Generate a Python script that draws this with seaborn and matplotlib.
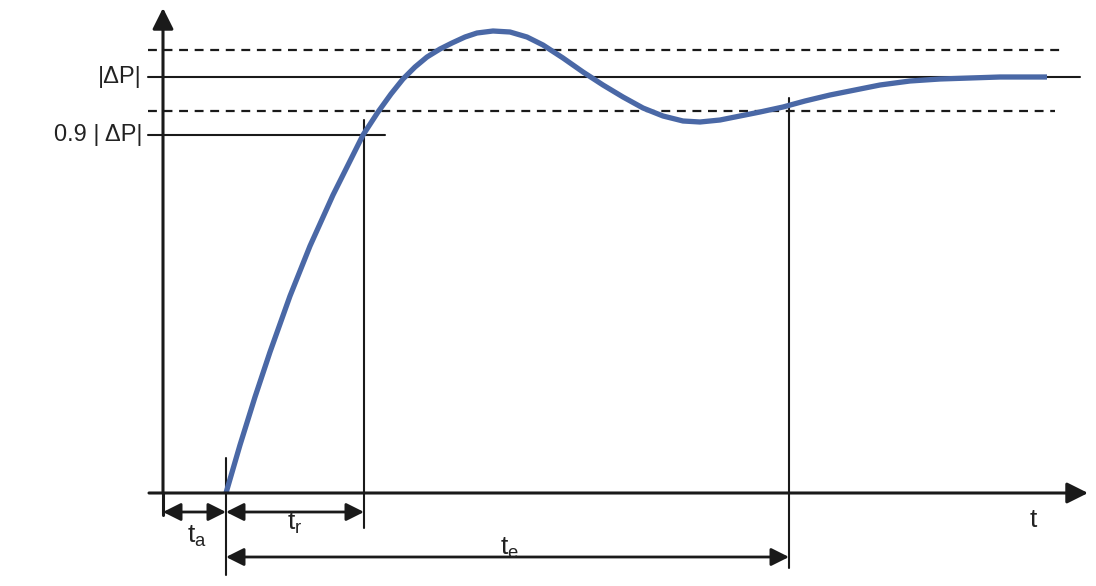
import numpy as np
import pandas as pd
import seaborn as sns
import matplotlib.pyplot as plt

# step response (t to the right, response upwards, in drawing units)
curve_t = [226, 240, 255, 270, 290, 310, 333, 348, 363, 378, 391, 403, 415, 427,
           440, 452, 465, 477, 493, 510, 527, 543, 563, 583, 603, 623, 643, 663,
           683, 700, 720, 740, 760, 783, 805, 830, 855, 880, 910, 940, 970, 1000,
           1047]
curve_y = [0, 48, 96, 141, 197, 247, 298, 328, 358, 381, 399, 414, 426, 436,
           444, 450, 456, 460, 462, 461, 456, 448, 435, 421, 408, 396, 385, 377,
           372, 371, 373, 377, 381, 386, 392, 398, 403, 408, 412, 414, 415, 416,
           416]

# levels
dp_level = 416      # |dP|
band_hi = 443       # upper tolerance band
band_lo = 382       # lower tolerance band
level_90 = 358      # 0.9 |dP|

# characteristic times
t_origin = 163
t_a = 226
t_r = 364
t_e = 789

level_labels = ["|ΔP|", "0.9 | ΔP|"]
time_labels = [r"t$_\mathrm{a}$", r"t$_\mathrm{r}$", r"t$_\mathrm{e}$", "t"]

sns.set_style("white")
plt.rcParams['font.family'] = ['Liberation Sans', 'DejaVu Sans']
plt.rcParams['mathtext.fontset'] = 'custom'
plt.rcParams['mathtext.rm'] = 'Liberation Sans'

fig = plt.figure(figsize=(10.96, 5.86), dpi=100)
ax = fig.add_axes([0, 0, 1, 1])

black = "#1a1a1a"

# horizontal reference lines
ax.plot([148, 1080], [dp_level, dp_level], color=black, lw=1.5)
ax.plot([148, 1065], [band_hi, band_hi], color=black, lw=1.6, ls=(0, (4, 3)))
ax.plot([148, 1055], [band_lo, band_lo], color=black, lw=1.6, ls=(0, (4, 3)))
ax.plot([148, 385], [level_90, level_90], color=black, lw=1.5)

# vertical markers
ax.plot([t_a, t_a], [35, -82], color=black, lw=1.5)
ax.plot([t_r, t_r], [373, -35], color=black, lw=1.5)
ax.plot([t_e, t_e], [395, -75], color=black, lw=1.5)

# axes with arrows
ax.plot([t_origin, t_origin], [-22, 0], color=black, lw=2.2)
ax.annotate("", xy=(t_origin, 485), xytext=(t_origin, 0),
            arrowprops=dict(arrowstyle="-|>", color=black, lw=2.2,
                            mutation_scale=32, shrinkA=0, shrinkB=0))
ax.annotate("", xy=(1088, 0), xytext=(149, 0),
            arrowprops=dict(arrowstyle="-|>", color=black, lw=2.2,
                            mutation_scale=32, shrinkA=0, shrinkB=0))

# time span arrows
spans = [(t_origin, t_a, -19), (t_a, t_r, -19), (t_a, t_e, -64)]
for x0, x1, yy in spans:
    ax.annotate("", xy=(x1, yy), xytext=(x0, yy),
                arrowprops=dict(arrowstyle="<|-|>", color=black, lw=2.0,
                                mutation_scale=27, shrinkA=0, shrinkB=0))

# response curve
df = pd.DataFrame({"t": curve_t, "y": curve_y})
sns.lineplot(data=df, x="t", y="y", sort=False, color="#4a68a6", lw=3.8, ax=ax)
ax.lines[-1].set_solid_capstyle('butt')
ax.lines[-1].set_solid_joinstyle('round')

ax.set_xlim(0, 1096)
ax.set_ylim(-93, 493)
ax.axis('off')

# labels
ax.text(142, dp_level, level_labels[0], ha='right', va='center', fontsize=17, color="#222222")
ax.text(142, level_90, level_labels[1], ha='right', va='center', fontsize=17, color="#222222")
ax.text(197, -43, time_labels[0], ha='center', va='center', fontsize=19, color="#222222")
ax.text(295, -30, time_labels[1], ha='center', va='center', fontsize=19, color="#222222")
ax.text(510, -55, time_labels[2], ha='center', va='center', fontsize=19, color="#222222")
ax.text(1033, -27, time_labels[3], ha='center', va='center', fontsize=19, color="#222222")

fig.savefig("out.png", dpi=100)
